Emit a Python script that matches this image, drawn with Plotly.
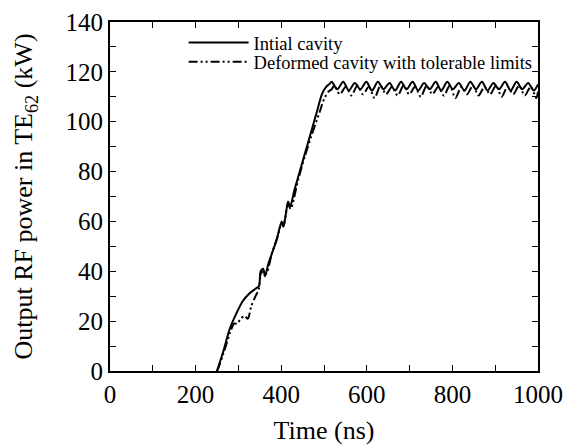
import plotly.graph_objects as go

# Initial cavity
t_init = [250, 265, 280, 295, 310, 325, 340, 348, 352, 358, 362, 370, 378, 390, 401, 405, 410, 416, 421, 430, 440, 455, 470, 485, 495, 505, 512,
          518, 531, 545, 558, 572, 585, 599, 612, 626, 639, 653, 666, 680, 693, 707, 720, 734, 747, 761, 774, 788, 801, 815, 828, 842, 855,
          869, 882, 896, 909, 923, 936, 950, 963, 977, 990, 1000]
p_init = [0, 8, 17, 23, 28, 31, 33, 34, 40, 41, 38, 43, 47, 53, 60, 58, 62, 68, 66, 72, 78, 87, 96, 105, 111, 114, 115,
          116, 113, 116, 112.5, 115.5, 113, 116, 112.5, 116, 113, 115.5, 112.5, 116, 113, 116, 112.5, 115.5, 113, 116, 112.5, 116, 113, 115.5, 112.5, 116, 113,
          116, 112.5, 115.5, 113, 116, 112.5, 116, 113, 115.5, 112.5, 115]

# Deformed cavity with tolerable limits
t_def = [250, 255, 265, 280, 290, 298, 305, 315, 322, 330, 340, 348, 352, 358, 365, 378, 390, 401, 405, 416, 422, 440, 455, 470, 490, 500, 510, 518,
         524, 537, 551, 564, 578, 591, 605, 618, 632, 645, 659, 672, 686, 699, 713, 726, 740, 753, 767, 780, 794, 807, 821, 834, 848, 861,
         875, 888, 902, 915, 929, 942, 956, 969, 983, 996, 1000]
p_def = [0, 2, 7, 15, 19, 19, 21, 22, 21, 26, 30, 33, 39, 40, 39, 47, 53, 59, 58, 67, 65, 77, 86, 94, 104, 109, 112, 113,
         114.5, 111, 114, 110.5, 114.5, 111, 114, 109.5, 114.5, 111, 114, 110.5, 114.5, 111, 114, 110, 114.5, 111, 114, 110.5, 114.5, 109.5, 114, 111, 114.5, 110.5,
         114, 111, 114.5, 110, 114, 111, 114.5, 110.5, 114, 109.5, 112]

FONT = "Liberation Serif"

fig = go.Figure()
fig.add_trace(go.Scatter(x=t_init, y=p_init, mode="lines", name="Intial cavity", legend="legend",
                         line=dict(color="black", width=2, shape="spline", smoothing=0.8)))
fig.add_trace(go.Scatter(x=t_def, y=p_def, mode="lines", name="Deformed cavity with tolerable limits", legend="legend2",
                         line=dict(color="black", width=2, dash="9px,3px,2px,3px,2px,3px", shape="spline", smoothing=0.8)))

axis_common = dict(showline=True, linecolor="black", linewidth=2, mirror="ticks",
                   ticks="inside", ticklen=6, tickwidth=1, tickcolor="black",
                   showgrid=False, zeroline=False, automargin=False,
                   tickfont=dict(family=FONT, size=25, color="black"))

leg_common = dict(xanchor="left", yanchor="middle", bgcolor="rgba(0,0,0,0)",
                  font=dict(family=FONT, size=18.5, color="black"), itemwidth=60,
                  borderwidth=0)

fig.update_layout(
    width=569, height=446,
    margin=dict(l=110, r=31, t=22, b=75),
    paper_bgcolor="white", plot_bgcolor="white",
    font=dict(family=FONT, color="black"),
    showlegend=True,
    legend=dict(x=0.172, y=0.940, **leg_common),
    legend2=dict(x=0.172, y=0.885, **leg_common),
    xaxis=dict(range=[0, 1000], dtick=200, tick0=0,
               minor=dict(dtick=100, ticks="inside", ticklen=6, tickcolor="black"),
               title=dict(text="Time (ns)", font=dict(family=FONT, size=26, color="black"), standoff=14),
               **axis_common),
    yaxis=dict(range=[0, 140], dtick=20, tick0=0,
               minor=dict(dtick=10, ticks="inside", ticklen=6, tickcolor="black"),
               title=dict(text="Output RF power in TE<sub>62</sub> (kW)", font=dict(family=FONT, size=26, color="black"), standoff=25),
               **axis_common),
)

fig.write_html("out.html")
